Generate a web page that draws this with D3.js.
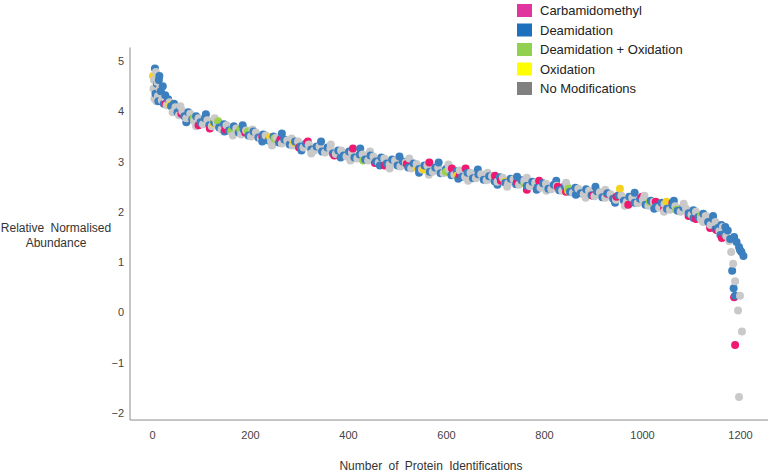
<!DOCTYPE html>
<html lang="en">
<head>
<meta charset="utf-8">
<script src="https://d3js.org/d3.v7.min.js"></script>
<style type="text/css">
body {
	margin: 0;
	background: #fff;
	font-family: "Liberation Sans", Arial, sans-serif;
}
.tick text {
	fill: #444;
	font-size: 11px;
}
.title {
	fill: #333;
	font-size: 12px;
	word-spacing: 3px;
}
.legend text {
	fill: #222;
	font-size: 13px;
}
</style>
</head>
<body>
<script type="text/javascript">

// legend categories
const mods = ["Carbamidomethyl", "Deamidation", "Deamidation + Oxidation", "Oxidation", "No Modifications"]
const legendColors = ["#e0359e", "#1f6fbf", "#92d050", "#ffff00", "#808080"]
const pointColors = ["#f0186f", "#3b7fbf", "#9bd14c", "#f6d21e", "#c9c9c9"]

const xTicks = [0, 200, 400, 600, 800, 1000, 1200]
const yTicks = [-2, -1, 0, 1, 2, 3, 4, 5]

// [rank, relative normalised abundance], one list per modification
const carbamidomethyl = [[28,4.15],[60,3.95],[95,3.72],[118,3.66],[150,3.64],[190,3.58],[225,3.5],[262,3.44],[300,3.28],[318,3.4],[372,3.12],[410,3.26],[455,2.97],[475,2.92],[520,2.95],[566,2.98],[612,2.86],[628,2.74],[640,2.86],[700,2.72],[712,2.62],[745,2.6],[765,2.44],[790,2.62],[828,2.5],[845,2.4],[900,2.32],[929,2.36],[948,2.3],[972,2.14],[1000,2.3],[1028,2.2],[1045,2.06],[1062,2.18],[1095,1.92],[1110,1.86],[1139,1.68],[1152,1.64],[1163,1.48],[1188,0.3],[1190,-0.65]]

const deamidation = [[6,4.85],[10,4.55],[14,4.62],[18,4.4],[22,4.5],[27,4.32],[33,4.24],[39,4.1],[45,4.15],[52,3.98],[58,4.05],[66,3.9],[74,3.98],[82,3.84],[90,3.9],[99,3.78],[108,3.86],[117,3.72],[127,3.78],[137,3.68],[147,3.74],[157,3.62],[167,3.7],[177,3.58],[187,3.64],[197,3.52],[207,3.6],[217,3.48],[227,3.54],[238,3.42],[248,3.5],[259,3.38],[270,3.44],[281,3.34],[292,3.4],[303,3.3],[314,3.36],[325,3.24],[336,3.3],[347,3.2],[358,3.28],[369,3.16],[380,3.22],[391,3.12],[402,3.2],[413,3.08],[424,3.14],[435,3.04],[446,3.12],[457,3.0],[468,3.08],[479,2.96],[490,3.04],[501,2.92],[512,3.0],[523,2.88],[534,2.96],[545,2.85],[556,2.92],[567,2.8],[578,2.88],[589,2.77],[600,2.85],[611,2.73],[622,2.81],[633,2.7],[644,2.78],[655,2.67],[666,2.75],[677,2.64],[688,2.71],[699,2.61],[710,2.69],[721,2.58],[732,2.66],[743,2.55],[754,2.63],[765,2.52],[776,2.6],[787,2.49],[798,2.57],[809,2.46],[820,2.54],[831,2.43],[842,2.51],[853,2.4],[864,2.48],[875,2.37],[886,2.45],[897,2.33],[908,2.41],[919,2.29],[930,2.37],[941,2.26],[952,2.33],[963,2.22],[974,2.3],[985,2.18],[996,2.26],[1007,2.14],[1018,2.22],[1029,2.1],[1040,2.18],[1051,2.06],[1062,2.13],[1073,2.02],[1084,2.09],[1095,1.97],[1105,2.03],[1115,1.9],[1125,1.96],[1135,1.8],[1145,1.86],[1155,1.68],[1162,1.74],[1168,1.56],[1175,1.63],[1180,1.46],[1188,1.5],[1193,1.4],[1198,1.3],[1203,1.2],[1207,1.12],[1184,0.83],[1187,0.48],[1190,0.33],[1200,1.24],
	[7,4.35],[13,4.2],[15,4.7],[24,4.15],[70,3.78],[110,3.94],[148,3.6],[185,3.72],[225,3.4],[265,3.56],[305,3.22],[345,3.4],[385,3.08],[425,3.26],[465,2.92],[505,3.1],[545,2.78],[585,2.98],[625,2.66],[665,2.84],[705,2.54],[745,2.7],[785,2.44],[825,2.62],[865,2.34],[905,2.5],[945,2.18],[985,2.38],[1025,2.06],[1065,2.22],[1105,1.88],[1145,1.92],[1150,1.66],[1160,1.54],[1170,1.7]]

const deamidationOxidation = [[85,3.86],[135,3.8],[163,3.62],[180,3.64],[196,3.6],[250,3.46],[431,3.02],[600,2.8],[760,2.57],[850,2.46],[1016,2.2],[1070,2.04],[1120,1.92]]

const oxidation = [[2,4.7],[37,4.12],[125,3.76],[241,3.49],[290,3.38],[540,2.88],[555,2.84],[622,2.72],[720,2.6],[849,2.42],[955,2.46],[1050,2.2]]

const noModifications = [[4,4.62],[8,4.78],[12,4.3],[16,4.45],[20,4.22],[25,4.28],[30,4.12],[36,4.18],[42,3.98],[48,4.08],[55,3.92],[62,4.0],[70,3.86],[78,3.95],[86,3.8],[95,3.86],[104,3.74],[113,3.82],[122,3.7],[132,3.76],[142,3.64],[152,3.72],[162,3.6],[172,3.66],[182,3.54],[192,3.62],[202,3.5],[212,3.58],[222,3.46],[232,3.52],[243,3.4],[254,3.48],[265,3.36],[276,3.42],[287,3.32],[298,3.4],[309,3.28],[320,3.34],[331,3.22],[342,3.3],[353,3.18],[364,3.26],[375,3.15],[386,3.22],[397,3.1],[408,3.18],[419,3.06],[430,3.14],[441,3.02],[452,3.1],[463,2.98],[474,3.06],[485,2.94],[496,3.02],[507,2.9],[518,2.98],[529,2.86],[540,2.95],[551,2.84],[562,2.92],[573,2.8],[584,2.88],[595,2.77],[606,2.85],[617,2.74],[628,2.82],[639,2.7],[650,2.78],[661,2.67],[672,2.75],[683,2.63],[694,2.71],[705,2.6],[716,2.68],[727,2.57],[738,2.65],[749,2.54],[760,2.62],[771,2.51],[782,2.58],[793,2.48],[804,2.56],[815,2.45],[826,2.52],[837,2.42],[848,2.5],[859,2.38],[870,2.46],[881,2.35],[892,2.42],[903,2.31],[914,2.39],[925,2.28],[936,2.35],[947,2.24],[958,2.32],[969,2.2],[980,2.28],[991,2.17],[1002,2.24],[1013,2.12],[1024,2.2],[1035,2.08],[1046,2.15],[1057,2.04],[1068,2.11],[1079,2.0],[1090,2.06],[1101,1.94],[1110,2.0],[1120,1.86],[1130,1.92],[1140,1.74],[1150,1.8],[1158,1.62],[1165,1.7],[1172,1.52],[1178,1.42],[1182,1.2],[1186,0.97],[1190,0.62],[1196,0.04],[1200,0.33],[1204,-0.38],[1198,-1.68],
	[3,4.45],[5,4.25],[9,4.2],[11,4.58],[58,4.1],[90,3.7],[128,3.86],[165,3.52],[205,3.64],[245,3.32],[285,3.46],[325,3.16],[365,3.34],[405,3.02],[445,3.2],[485,2.86],[525,3.06],[565,2.74],[605,2.94],[645,2.62],[685,2.78],[725,2.5],[765,2.68],[805,2.42],[845,2.58],[885,2.28],[925,2.44],[965,2.12],[1005,2.32],[1045,2.0],[1085,2.16],[1125,1.8]]

const width = 773
const height = 474

const svg = d3.select("body")
	.append("svg")
	.attr("width", width)
	.attr("height", height)

const x = d3.scaleLinear().domain([0, 1200]).range([152, 740])
const y = d3.scaleLinear().domain([-2, 5]).range([413, 61])

// axis lines run a bit past the tick range, as in the original
svg.append("line")
	.attr("x1", 130).attr("x2", 130)
	.attr("y1", y(5.27)).attr("y2", y(-2.14))
	.style("stroke", "#8c8c8c")
svg.append("line")
	.attr("x1", 130).attr("x2", 768)
	.attr("y1", y(-2.14)).attr("y2", y(-2.14))
	.style("stroke", "#8c8c8c")

const yAxis = svg.append("g")
	.attr("transform", "translate(130,0)")
	.call(d3.axisLeft(y).tickValues(yTicks).tickSize(0).tickPadding(6).tickFormat(d3.format("d")))
yAxis.select(".domain").remove()

const xAxis = svg.append("g")
	.attr("transform", "translate(0," + y(-2.14) + ")")
	.call(d3.axisBottom(x).tickValues(xTicks).tickSize(0).tickPadding(11).tickFormat(d3.format("d")))
xAxis.select(".domain").remove()
svg.selectAll(".tick text").style("font-family", "'Liberation Sans', Arial, sans-serif")

// combine series and draw in rank order so colours mix like the original
const series = [carbamidomethyl, deamidation, deamidationOxidation, oxidation, noModifications]
const points = []
series.forEach((s, i) => s.forEach(p => points.push({rank: p[0], value: p[1], mod: i})))
points.sort((a, b) => a.rank - b.rank)

svg.append("g")
	.selectAll("circle")
	.data(points)
	.enter()
	.append("circle")
	.attr("cx", d => x(d.rank))
	.attr("cy", d => y(d.value))
	.attr("r", 4)
	.style("fill", d => pointColors[d.mod])

// axis titles
const yTitle = svg.append("text")
	.attr("class", "title")
	.attr("text-anchor", "middle")
yTitle.append("tspan").attr("x", 56).attr("y", 232).text("Relative Normalised")
yTitle.append("tspan").attr("x", 56).attr("y", 247).text("Abundance")

svg.append("text")
	.attr("class", "title")
	.attr("text-anchor", "middle")
	.attr("x", 431)
	.attr("y", 470)
	.text("Number of Protein Identifications")

// legend
const legend = svg.append("g").attr("class", "legend")
const rows = legend.selectAll("g")
	.data(mods)
	.enter()
	.append("g")
	.attr("transform", (d, i) => "translate(517," + (4 + i * 19.5) + ")")
rows.append("rect")
	.attr("width", 15)
	.attr("height", 13)
	.style("fill", (d, i) => legendColors[i])
rows.append("text")
	.attr("x", 23)
	.attr("y", 11)
	.text(d => d)

</script>
</body>
</html>
